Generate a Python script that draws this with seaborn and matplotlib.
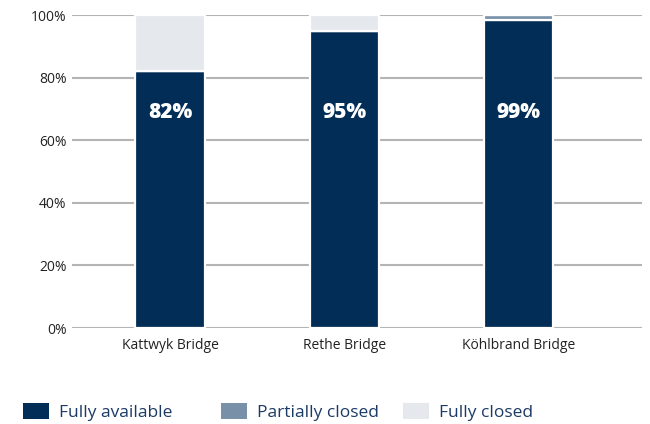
import matplotlib as mpl
from matplotlib import pyplot as plt
from matplotlib.patches import Patch
import seaborn as sns
import numpy as np
import pandas as pd

bridges = ["Kattwyk Bridge", "Rethe Bridge", "Köhlbrand Bridge"]
fully_available = [82.0, 95.0, 98.4]
partially_closed = [0.0, 0.0, 1.6]
fully_closed = [18.0, 5.0, 0.0]
bar_labels = ["82%", "95%", "99%"]

series = ["Fully available", "Partially closed", "Fully closed"]
colors = {"Fully available": "#022d57", "Partially closed": "#7890a8", "Fully closed": "#e5e8ed"}

df = pd.DataFrame({"Bridge": bridges,
                   "Fully available": fully_available,
                   "Partially closed": partially_closed,
                   "Fully closed": fully_closed})

sns.set_style("white")
plt.rcParams['font.family'] = ['Open Sans', 'DejaVu Sans']

fig = plt.figure(figsize=(6.5, 4.24), dpi=100)
ax = fig.add_axes([0.111, 0.2264, 0.877, 0.7382])

bottom = np.zeros(len(bridges))
for s in series:
    sns.barplot(data=df, x="Bridge", y=s, order=bridges, color=colors[s],
                saturation=1, bottom=bottom, width=0.4, edgecolor="white",
                linewidth=1.6, ax=ax, zorder=3)
    bottom = bottom + df[s].values

for i, lab in enumerate(bar_labels):
    ax.text(i, 69, lab, ha="center", va="center", color="white",
            fontsize=15, fontweight="heavy", zorder=4)

ax.set_ylim(0, 100)
ax.set_xlim(-0.563, 2.71)
ax.set_yticks([0, 20, 40, 60, 80, 100])
ax.set_yticklabels([f"{v}%" for v in [0, 20, 40, 60, 80, 100]])
ax.yaxis.grid(True, color="#b4b4b4", linewidth=1.5, zorder=0)
ax.set_axisbelow(True)
for sp in ax.spines.values():
    sp.set_visible(False)
ax.tick_params(axis="both", length=0, labelsize=10, colors="#222222", pad=4)
ax.tick_params(axis="x", pad=7)
ax.set_xlabel("")
ax.set_ylabel("")

# one legend per entry so the columns sit where the reference has them
for s, x0 in zip(series, [0.012, 0.316, 0.596]):
    leg = fig.legend([Patch(facecolor=colors[s], edgecolor="none")], [s],
                     loc="lower left", bbox_to_anchor=(x0, -0.03), frameon=False,
                     fontsize=12.5, handlelength=1.5, handleheight=1.0,
                     handletextpad=0.55)
    for t in leg.get_texts():
        t.set_color("#1c3a66")

fig.savefig("out.png", dpi=100)
